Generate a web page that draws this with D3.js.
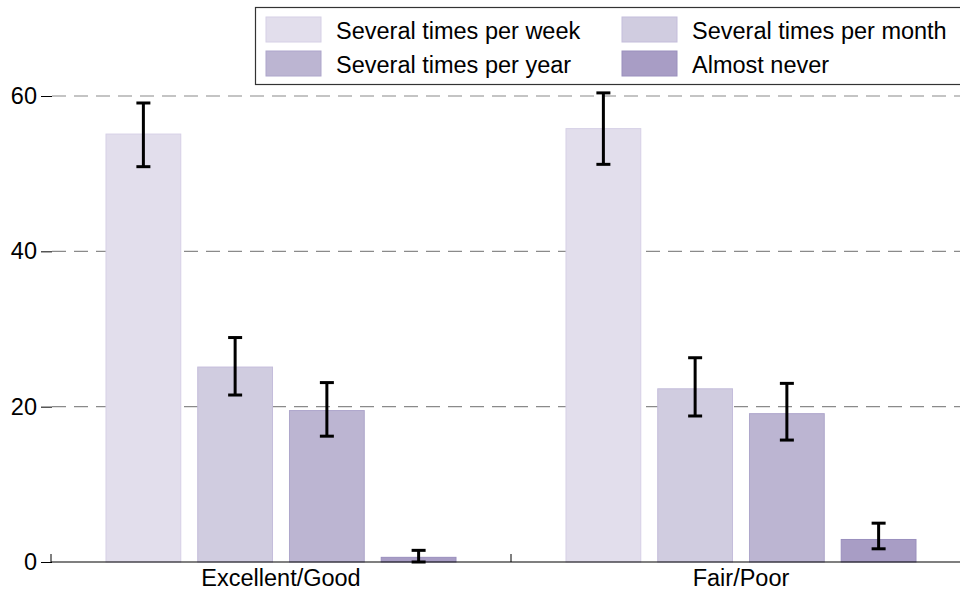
<!DOCTYPE html>
<html><head><meta charset="utf-8">
<script src="https://cdn.jsdelivr.net/npm/d3@7"></script>
<style>body{margin:0;background:#fff;} svg{display:block;font-family:"Liberation Sans",Arial,sans-serif;}</style>
</head><body>
<script>
const categories = ["Excellent/Good", "Fair/Poor"];
const seriesNames = ["Several times per week", "Several times per month", "Several times per year", "Almost never"];
const values = {
  "Excellent/Good": [55.1, 25.1, 19.5, 0.6],
  "Fair/Poor": [55.8, 22.3, 19.1, 2.9]
};
const lower = {
  "Excellent/Good": [50.9, 21.5, 16.2, 0.0],
  "Fair/Poor": [51.2, 18.8, 15.7, 1.7]
};
const upper = {
  "Excellent/Good": [59.1, 28.9, 23.1, 1.5],
  "Fair/Poor": [60.4, 26.3, 23.0, 5.0]
};
const yTicks = [0, 20, 40, 60];
const fills = ["#e2deec", "#d0cce0", "#bcb5d2", "#a89dc5"];
const strokes = ["#d6d0e6", "#c4bddb", "#aea6cb", "#9a8fbd"];
const FS = 23.5;

const W = 960, H = 592;
const svg = d3.select("body").append("svg").attr("width", W).attr("height", H);

const x0 = d3.scaleBand().domain(categories).range([51, 971]).paddingInner(0).paddingOuter(0);
const x1 = d3.scaleBand().domain(seriesNames).range([55, 405]).paddingInner(0.185).paddingOuter(0);
const y = d3.scaleLinear().domain([0, 60]).range([562, 96]);

// gridlines
svg.append("g").selectAll("line").data(yTicks.filter(d => d > 0)).join("line")
  .attr("x1", 52).attr("x2", W).attr("y1", d => y(d)).attr("y2", d => y(d))
  .attr("stroke", "#8a8a8a").attr("stroke-width", 1.2).attr("stroke-dasharray", "14,8");

// y axis (ticks only)
const yAxis = d3.axisLeft(y).tickValues(yTicks).tickSize(11).tickPadding(4);
const yg = svg.append("g").attr("transform", "translate(52,0)").call(yAxis);
yg.select(".domain").remove();
yg.selectAll(".tick line").attr("stroke", "#000");
yg.selectAll(".tick text").attr("font-size", FS).attr("fill", "#000").attr("font-family", "Liberation Sans, Arial, sans-serif");

// bars
const groups = svg.append("g").selectAll("g").data(categories).join("g")
  .attr("transform", d => `translate(${x0(d)},0)`);
groups.selectAll("rect").data(c => values[c].map((v, i) => ({c, i, v}))).join("rect")
  .attr("x", d => x1(seriesNames[d.i]))
  .attr("width", x1.bandwidth())
  .attr("y", d => y(d.v))
  .attr("height", d => y(0) - y(d.v))
  .attr("fill", d => fills[d.i])
  .attr("stroke", d => strokes[d.i]).attr("stroke-width", 1);

// error bars
const eb = groups.selectAll("g.eb").data(c => values[c].map((v, i) => ({c, i, lo: lower[c][i], hi: upper[c][i]}))).join("g").attr("class", "eb");
eb.append("line")
  .attr("x1", d => x1(seriesNames[d.i]) + x1.bandwidth() / 2)
  .attr("x2", d => x1(seriesNames[d.i]) + x1.bandwidth() / 2)
  .attr("y1", d => y(d.lo)).attr("y2", d => y(d.hi))
  .attr("stroke", "#000").attr("stroke-width", 3);
["lo", "hi"].forEach(k => {
  eb.append("line")
    .attr("x1", d => x1(seriesNames[d.i]) + x1.bandwidth() / 2 - 7)
    .attr("x2", d => x1(seriesNames[d.i]) + x1.bandwidth() / 2 + 7)
    .attr("y1", d => y(d[k])).attr("y2", d => y(d[k]))
    .attr("stroke", "#000").attr("stroke-width", 3);
});

// x axis
svg.append("line").attr("x1", 51).attr("x2", W).attr("y1", y(0)).attr("y2", y(0)).attr("stroke", "#000").attr("stroke-width", 1.2);
svg.append("g").selectAll("line").data(categories).join("line")
  .attr("x1", d => x0(d)).attr("x2", d => x0(d))
  .attr("y1", y(0)).attr("y2", y(0) - 8).attr("stroke", "#000").attr("stroke-width", 1);
svg.append("g").selectAll("text").data(categories).join("text")
  .attr("x", d => x0(d) + x0.bandwidth() / 2).attr("y", 586)
  .attr("text-anchor", "middle").attr("font-size", FS).attr("fill", "#000").text(d => d);

// legend
const lg = svg.append("g");
lg.append("rect").attr("x", 255.5).attr("y", 7.5).attr("width", 720).attr("height", 77)
  .attr("fill", "#fff").attr("stroke", "#333").attr("stroke-width", 1.2);
const legX = [266, 622], legY = [17, 51];
seriesNames.forEach((s, i) => {
  const lx = legX[i % 2], ly = legY[Math.floor(i / 2)];
  lg.append("rect").attr("x", lx).attr("y", ly).attr("width", 55).attr("height", 25)
    .attr("fill", fills[i]).attr("stroke", strokes[i]).attr("stroke-width", 1);
  lg.append("text").attr("x", lx + 70).attr("y", ly + 22).attr("font-size", FS).attr("fill", "#000").text(s);
});
</script>
</body></html>
